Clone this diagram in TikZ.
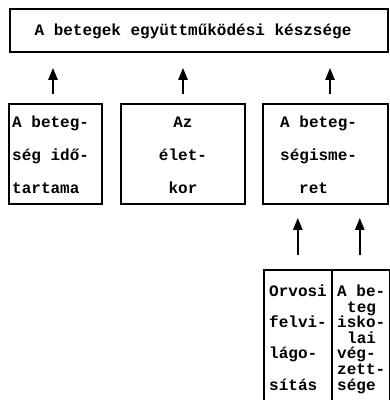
\documentclass[tikz,border=0pt]{standalone}
\usepackage{fontspec}
\setmonofont{Liberation Mono}
\usetikzlibrary{arrows.meta}

\tikzset{
  box/.style={draw, line width=1.6pt, inner sep=0pt},
  txt/.style={font=\ttfamily\bfseries\fontsize{16}{33}\selectfont, inner sep=0pt},
  small/.style={font=\ttfamily\bfseries\fontsize{16}{16}\selectfont, inner sep=0pt, anchor=base west},
  arr/.style={line width=2.4pt, -{Triangle[width=9pt,length=12pt]}},
}

\begin{document}
\begin{tikzpicture}[x=1pt,y=-1pt]
\useasboundingbox (0,0) rectangle (390,400);

% top box
\node[box, minimum width=378pt, minimum height=43pt] (top) at (199,30.5) {};
\node[txt] (toptext) at (193,31) {A betegek együttműködési készsége};

% middle row
\node[box, minimum width=93pt, minimum height=100pt] (b1) at (55.5,154) {};
\node[txt, align=left, anchor=west] (t1) at (12,155) {A beteg-\\ség idő-\\tartama};

\node[box, minimum width=124pt, minimum height=100pt] (b2) at (183,154) {};
\node[txt, align=center] (t2) at (183,155) {Az\\élet-\\kor};

\node[box, minimum width=125pt, minimum height=100pt] (b3) at (325.5,154) {};
\node[txt, align=left, anchor=west] (t3) at (280,155) {A beteg-\\ségisme-\\\hspace*{19pt}ret};

% bottom pair (running off the lower edge)
\node[box, minimum width=68pt, minimum height=140pt, anchor=north west] (b4) at (263,269) {};
\node[box, minimum width=58pt, minimum height=140pt, anchor=north west] (b5) at (331,269) {};

\node[small] (l1) at (269,296) {Orvosi};
\node[small] (l2) at (269,327) {felvi-};
\node[small] (l3) at (269,358) {lágo-};
\node[small] (l4) at (269,390) {sítás};

\node[small] (r1) at (337,296) {A be-};
\node[small] (r2) at (347,312) {teg};
\node[small] (r3) at (337,327) {isko-};
\node[small] (r4) at (347,343) {lai};
\node[small] (r5) at (337,358) {vég-};
\node[small] (r6) at (337,374) {zett-};
\node[small] (r7) at (337,390) {sége};

% arrows
\draw[arr, shorten <=9pt, shorten >=15pt] ([xshift=-2.5pt]b1.north) -- ([xshift=-2.5pt]b1.north |- top.south);
\draw[arr, shorten <=9pt, shorten >=15pt] (b2.north) -- (b2.north |- top.south);
\draw[arr, shorten <=9pt, shorten >=15pt] ([xshift=4.5pt]b3.north) -- ([xshift=4.5pt]b3.north |- top.south);

\draw[arr, shorten <=14pt, shorten >=13pt] (b4.north) -- (b4.north |- b3.south);
\draw[arr, shorten <=14pt, shorten >=13pt] ([xshift=-1pt]b5.north) -- ([xshift=-1pt]b5.north |- b3.south);
\end{tikzpicture}
\end{document}
